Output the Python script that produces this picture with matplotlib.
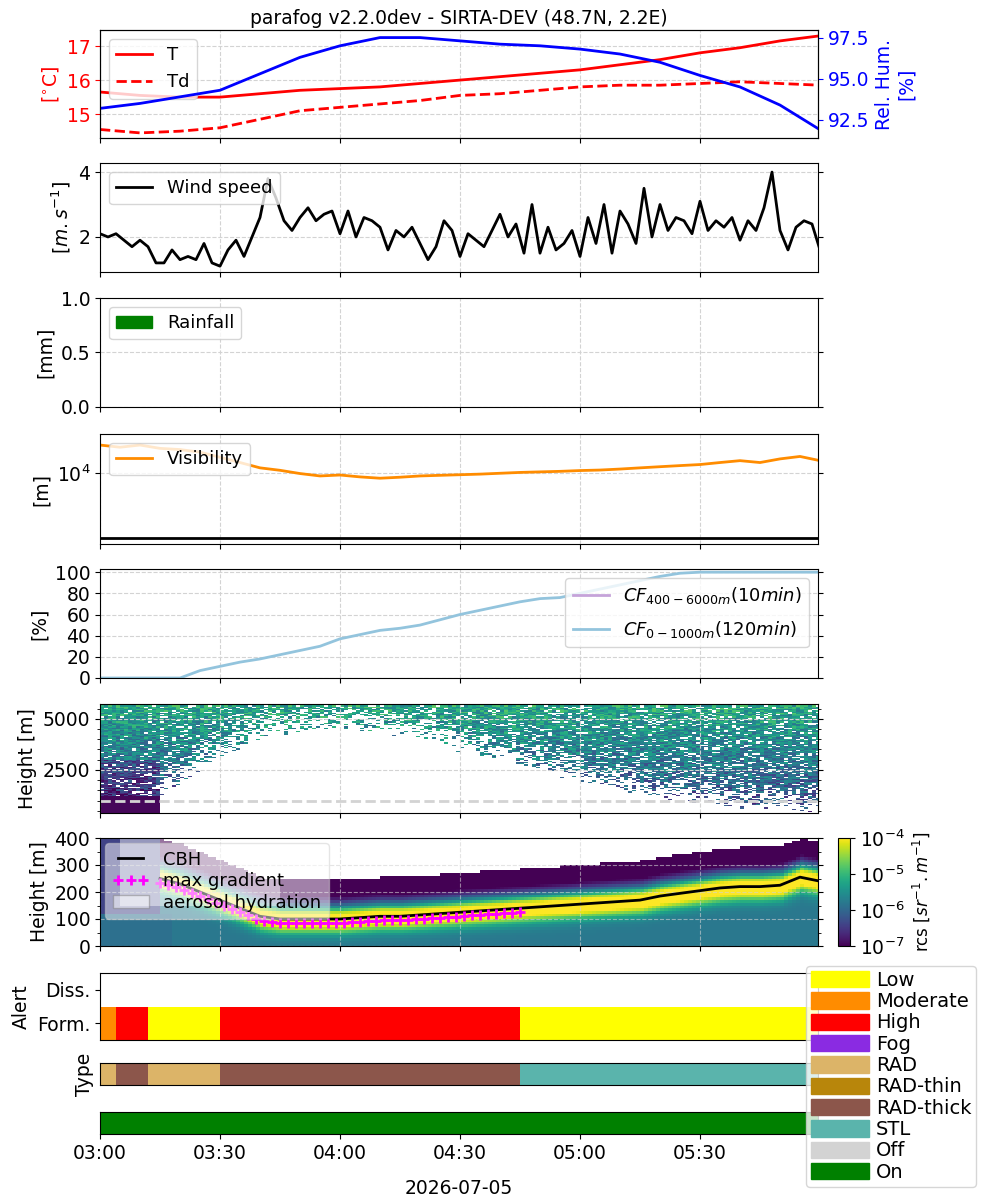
import datetime as dt

import matplotlib
matplotlib.use("Agg")
import matplotlib.pyplot as plt
import matplotlib.dates as mdates
from matplotlib.colors import LogNorm
from matplotlib.patches import Patch
import numpy as np

plt.rcParams['font.size'] = 13.5
plt.rcParams['legend.fontsize'] = 13

t0 = dt.datetime(2026, 7, 5, 3, 0)

# ---- data ----
# 10-min grid 03:00 .. 06:00
temp = [15.65, 15.55, 15.5, 15.5, 15.6, 15.7, 15.75, 15.8, 15.9, 16.0,
        16.1, 16.2, 16.3, 16.45, 16.6, 16.8, 16.95, 17.15, 17.3]
dewp = [14.55, 14.45, 14.5, 14.6, 14.85, 15.1, 15.2, 15.3, 15.4, 15.55,
        15.6, 15.7, 15.8, 15.85, 15.85, 15.9, 15.95, 15.9, 15.85]
rh = [93.2, 93.5, 93.9, 94.3, 95.3, 96.3, 97.0, 97.5, 97.5, 97.3,
      97.1, 97.0, 96.8, 96.5, 96.0, 95.2, 94.5, 93.4, 91.9]

# 2-min grid
wind = [2.1, 2.0, 2.1, 1.9, 1.7, 1.9, 1.7, 1.2, 1.2, 1.6,
        1.3, 1.4, 1.3, 1.8, 1.2, 1.1, 1.6, 1.9, 1.4, 2.0,
        2.6, 3.8, 3.2, 2.5, 2.2, 2.6, 2.9, 2.5, 2.7, 2.8,
        2.1, 2.8, 2.0, 2.6, 2.5, 2.3, 1.6, 2.2, 2.0, 2.3,
        1.8, 1.3, 1.7, 2.5, 2.2, 1.4, 2.1, 1.9, 1.7, 2.2,
        2.7, 2.0, 2.4, 1.5, 3.0, 1.5, 2.3, 1.6, 1.8, 2.2,
        1.4, 2.6, 1.8, 3.0, 1.5, 2.8, 2.4, 1.8, 3.5, 2.0,
        3.0, 2.2, 2.6, 2.5, 2.1, 3.1, 2.2, 2.5, 2.3, 2.6,
        1.9, 2.5, 2.2, 2.9, 4.0, 2.2, 1.6, 2.3, 2.5, 2.4, 1.6]

# 5-min grid
visi = [27000, 25000, 27000, 24000, 23000, 21000, 17500, 14500, 12000, 11000,
        9800, 9000, 9300, 8700, 8300, 8600, 9000, 9200, 9400, 9600,
        9900, 10200, 10400, 10600, 10900, 11100, 11500, 12000, 12500, 13000,
        13500, 14500, 15500, 14500, 16500, 18000, 15500]
cf_low = [0, 0, 0, 0, 0, 7, 11, 15, 18, 22, 26, 30, 37, 41, 45, 47, 50, 55,
          60, 64, 68, 72, 75, 76, 80, 84, 88, 92, 96, 99, 100, 100, 100, 100,
          100, 100, 100]
cbh = [np.nan, np.nan, np.nan, 250, 230, 200, 170, 140, 110, 100, 100, 100,
       100, 105, 110, 110, 115, 120, 125, 130, 135, 140, 145, 150, 155, 160,
       165, 170, 185, 195, 205, 215, 220, 220, 225, 255, 240]
# height where the upper lidar signal reappears (m)
clear_bottom = [np.nan, np.nan, np.nan, 1200, 1800, 2500, 3000, 3500, 3900,
                4100, 4200, 4300, 4300, 4200, 4100, 4000, 3800, 3600, 3300,
                3000, 2800, 2500, 2200, 2000, 1800, 1500, 1300, 1100, 900,
                800, 700, 600, 500, 450, 400, 400, 400]

alert_segs = [(0, 4, 'Moderate'), (4, 12, 'High'), (12, 30, 'Low'),
              (30, 105, 'High'), (105, 180, 'Low')]
type_segs = [(0, 4, 'RAD'), (4, 12, 'RAD-thick'), (12, 30, 'RAD'),
             (30, 105, 'RAD-thick'), (105, 180, 'STL')]

colors = {'Low': '#ffff00', 'Moderate': '#ff8c00', 'High': '#ff0000',
          'Fog': '#8a2be2', 'RAD': '#dcb468', 'RAD-thin': '#b8860b',
          'RAD-thick': '#8c564b', 'STL': '#5ab4ac', 'Off': '#d3d3d3',
          'On': '#008000'}


def mins(m):
    return t0 + dt.timedelta(minutes=float(m))


t10 = [mins(10 * i) for i in range(len(temp))]
t2 = [mins(2 * i) for i in range(len(wind))]
t5 = [mins(5 * i) for i in range(len(visi))]
xmin, xmax = t0, mins(179.5)

fig = plt.figure(figsize=(10, 12), dpi=100)


def add_ax(top, bottom):
    return fig.add_axes([0.1, 1 - bottom / 1200, 0.718, (bottom - top) / 1200])


def style(ax, labels=False):
    ax.set_xlim(xmin, xmax)
    ax.xaxis.set_major_locator(mdates.MinuteLocator(byminute=[0, 30]))
    ax.xaxis.set_major_formatter(mdates.DateFormatter('%H:%M'))
    if not labels:
        ax.tick_params(labelbottom=False)


# panel 1: temperature / RH
ax1 = add_ax(30, 138)
ax1.plot(t10, temp, color='red', lw=2, label='T')
ax1.plot(t10, dewp, color='red', lw=2, ls='--', label='Td')
ax1.set_ylim(14.3, 17.47)
ax1.set_ylabel('[$^{\\circ}$C]', color='red')
ax1.tick_params(axis='y', colors='red')
ax1.grid(ls='--', color='lightgrey')
ax1.legend(loc='upper left')
ax1.set_title('parafog v2.2.0dev - SIRTA-DEV (48.7N, 2.2E)', fontsize=13.5, pad=4)
style(ax1)
ax1b = ax1.twinx()
ax1b.plot(t10, rh, color='blue', lw=2)
ax1b.set_ylim(91.4, 97.96)
ax1b.set_yticks([92.5, 95.0, 97.5])
ax1b.set_ylabel('Rel. Hum.\n[%]', color='blue')
ax1b.tick_params(axis='y', colors='blue')
style(ax1b)

# panel 2: wind
ax2 = add_ax(163, 272)
ax2.plot(t2, wind, color='black', lw=2, label='Wind speed')
ax2.set_ylim(0.92, 4.28)
ax2.set_yticks([2, 4])
ax2.set_ylabel('[$m.s^{-1}$]')
ax2.grid(ls='--', color='lightgrey')
ax2.legend(loc='upper left')
style(ax2)

# panel 3: rain
ax3 = add_ax(298, 407)
ax3.set_ylim(0, 1)
ax3.set_ylabel('[mm]')
ax3.grid(ls='--', color='lightgrey')
ax3.legend(loc='upper left', handles=[Patch(color='green', label='Rainfall')])
style(ax3)

# panel 4: visibility
ax4 = add_ax(434, 544)
ax4.plot(t5, visi, color='darkorange', lw=2, label='Visibility')
ax4.axhline(1000, color='black', lw=2)
ax4.set_yscale('log')
ax4.set_ylim(800, 40000)
ax4.set_yticks([10000])
ax4.yaxis.set_minor_locator(matplotlib.ticker.NullLocator())
ax4.set_ylabel('[m]')
ax4.grid(ls='--', color='lightgrey')
ax4.legend(loc='upper left')
style(ax4)

# panel 5: cloud fraction
ax5 = add_ax(569, 678)
ax5.plot([], [], color='#c5a3d9', lw=2, label='$CF_{400-6000m}(10min)$')
ax5.plot(t5, cf_low, color='#93c4dd', lw=2, label='$CF_{0-1000m}(120min)$')
ax5.set_ylim(0, 103)
ax5.set_yticks(range(0, 101, 20))
ax5.set_ylabel('[%]')
ax5.grid(ls='--', color='lightgrey')
ax5.legend(loc='upper right', labelspacing=0.7)
style(ax5)

norm = LogNorm(1e-7, 1e-4)
tm = np.arange(0, 180)
tmin = np.arange(0, 181, 5)
cbh_1m = np.interp(tm, tmin, np.array(cbh, dtype=float))
cbh_1m[tm < 15] = np.nan
clr_1m = np.interp(tm, tmin, np.array(clear_bottom, dtype=float))
tgrid = [mins(m) for m in np.arange(0, 181)]

# panel 6: lidar, full range (texture from a fixed hash pattern)
ax6 = add_ax(704, 813)
zh = np.arange(400, 5801, 60)
ii, jj = np.meshgrid(tm, zh)
h1 = np.modf(np.abs(np.sin(ii * 12.9898 + jj * 0.78233) * 43758.5453))[0]
h2 = np.modf(np.abs(np.sin(ii * 4.1414 + jj * 0.35719) * 24634.6345))[0]
lv = -6.9 + 1.2 * (jj / 5800) + 1.0 * h2
keep_p = np.clip((jj - clr_1m[None, :]) / 1800, 0, 0.85)
keep = h1 < keep_p
early = ii < 15
keep[early] = h1[early] < np.clip(0.75 + jj[early] / 20000, 0, 0.95)
lv[early & (jj < 3000)] -= 0.5
lv[early & (jj < 1200)] = -6.95
keep[early & (jj < 1200)] = True
f6 = np.where(keep, 10 ** lv, np.nan)
ax6.pcolormesh(tgrid, np.append(zh, 5860) - 30, f6, cmap='viridis', norm=norm)
ax6.axhline(1000, color='lightgrey', ls='--', lw=2)
ax6.set_ylim(400, 5720)
ax6.set_yticks([2500, 5000])
ax6.yaxis.set_minor_locator(matplotlib.ticker.MultipleLocator(500))
ax6.set_ylabel('Height [m]')
ax6.grid(ls='--', color='lightgrey')
style(ax6)

# panel 7: lidar, fog layer
ax7 = add_ax(838, 946)
zl = np.arange(0, 400, 10)
ii, jj = np.meshgrid(tm, zl)
cb = cbh_1m[None, :]
top = cb + 140
v = np.where(jj < cb - 30, -5.8, -5.8 - 1.3 * np.clip((jj - cb - 20) / 60, 0, 1))
v = v + 2.3 * np.exp(-((jj - cb + 10) / 45) ** 2)
v = np.clip(v, -7, -4)
v = np.where(jj > top, np.nan, v)
v[np.isnan(cb) & (jj >= 0)] = -6.4
v[:12, :18] = -5.9
mesh = ax7.pcolormesh(tgrid, np.append(zl, 400), 10 ** v, cmap='viridis',
                      norm=norm)
ax7.fill_between([mins(5), mins(45)], 150, 400, color='white', alpha=0.45,
                 lw=0)
ax7.plot(t5, cbh, color='black', lw=2, label='CBH')
mg_t = np.arange(15, 106, 2)
mg = np.interp(mg_t, tmin, np.array(cbh, dtype=float)) - 15
ax7.plot([mins(m) for m in mg_t], mg, ls='none', marker='+', color='magenta',
         ms=7, mew=2, label='max gradient')
handles, labels = ax7.get_legend_handles_labels()
handles.append(Patch(facecolor='white', edgecolor='grey', alpha=0.5))
labels.append('aerosol hydration')
ax7.legend(handles, labels, loc='upper left', framealpha=0.5, numpoints=3,
           labelspacing=0.2, borderaxespad=0.3)
ax7.set_ylim(0, 400)
ax7.set_yticks(range(0, 401, 100))
ax7.yaxis.set_minor_locator(matplotlib.ticker.MultipleLocator(50))
ax7.set_ylabel('Height [m]')
ax7.grid(ls='--', color='lightgrey', alpha=0.6)
style(ax7)
cax = fig.add_axes([0.838, 1 - 946 / 1200, 0.012, 108 / 1200])
cb_ = fig.colorbar(mesh, cax=cax, ticks=[1e-7, 1e-6, 1e-5, 1e-4])
cb_.set_label('rcs [$sr^{-1}.m^{-1}$]', fontsize=12)

for ax in (ax2, ax3, ax4, ax5, ax6, ax7):
    ax.tick_params(right=True, which='both')


def draw_segs(ax, segs, y):
    for s, e, name in segs:
        ax.barh(y, (e - s) / 1440, left=mdates.date2num(mins(s)), height=1,
                color=colors[name])


# panel 8: alert
ax8 = add_ax(973, 1040)
draw_segs(ax8, alert_segs, 0)
ax8.set_ylim(-0.5, 1.5)
ax8.set_yticks([0, 1])
ax8.set_yticklabels(['Form.', 'Diss.'])
ax8.set_ylabel('Alert')
style(ax8)
ax8.tick_params(bottom=False)

# panel 9: type
ax9 = add_ax(1063, 1085)
draw_segs(ax9, type_segs, 0)
ax9.set_ylim(-0.5, 0.5)
ax9.set_yticks([])
ax9.set_ylabel('Type')
style(ax9)
ax9.tick_params(bottom=False)

# panel 10: on/off
ax10 = add_ax(1112, 1134)
draw_segs(ax10, [(0, 180, 'On')], 0)
ax10.set_ylim(-0.5, 0.5)
ax10.set_yticks([])
style(ax10, labels=True)
ax10.set_xlabel('2026-07-05', labelpad=12)

fig.legend(handles=[Patch(color=c, label=n) for n, c in colors.items()],
           loc='lower right', bbox_to_anchor=(0.986, 0.003), fontsize=14,
           handlelength=3.0, handleheight=0.9, labelspacing=0.12,
           borderpad=0.25, handletextpad=0.35)

fig.savefig('out.png', dpi=100)
